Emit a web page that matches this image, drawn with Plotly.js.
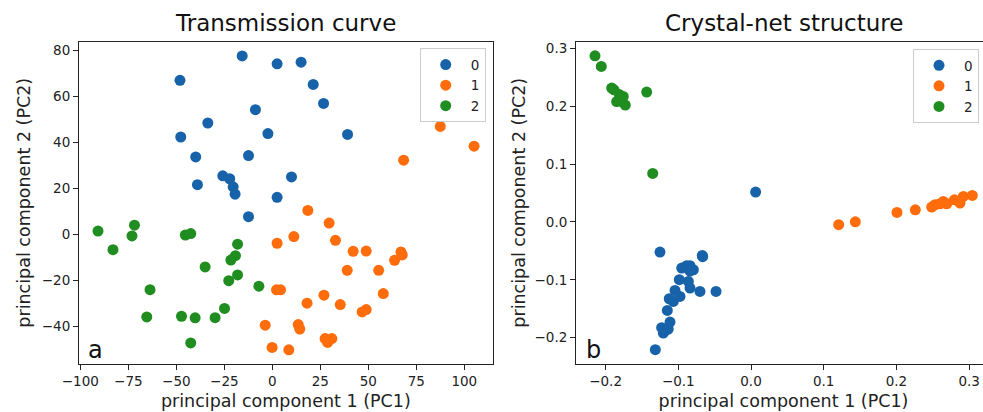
<!DOCTYPE html>
<html>
<head>
<meta charset="utf-8">
<script src="https://cdn.plot.ly/plotly-3.0.1.min.js"></script>
<style>
html, body { margin: 0; padding: 0; overflow: hidden; background: #fff; }
#chart { width: 1000px; height: 412px; }
</style>
</head>
<body>
<div id="chart"></div>
<script>
// ---- Data: Transmission curve (panel a) ----
const transClusterNames = ['0', '1', '2'];
const trans0X = [-15.7, 2.5, 15.0, -48.1, 21.3, 26.7, -8.8, -33.6, -47.7, -2.3, 39.2, -39.9, -12.4, -25.8, -22.2, -20.4, -19.4, 10.0, -39.0, 2.5, -12.4];
const trans0Y = [77.7, 74.3, 75.0, 67.1, 65.3, 57.0, 54.3, 48.5, 42.4, 43.9, 43.5, 33.7, 34.3, 25.5, 24.2, 20.7, 17.5, 25.0, 21.6, 16.1, 7.7];
const trans1X = [87.5, 105.1, 68.4, 18.5, 29.6, 2.5, 11.2, 32.9, 42.1, 48.9, 67.0, 67.7, 63.7, 39.0, 55.4, 2.2, 4.3, 26.9, 57.8, 18.1, 35.4, 46.8, 48.9, -3.7, 13.5, 14.3, 27.5, 31.0, 28.8, -0.1, 8.6];
const trans1Y = [47.0, 38.4, 32.3, 10.4, 4.9, -3.9, -1.0, -2.6, -7.4, -7.3, -7.7, -9.0, -11.3, -15.7, -15.7, -24.2, -24.2, -26.5, -25.8, -30.0, -30.6, -33.8, -32.8, -39.6, -39.3, -41.3, -45.4, -45.4, -47.1, -49.3, -50.3];
const trans2X = [-90.8, -71.8, -73.1, -83.0, -45.3, -42.5, -18.1, -19.2, -21.6, -35.0, -18.1, -22.7, -7.0, -63.7, -24.9, -65.4, -47.3, -40.2, -29.8, -42.5];
const trans2Y = [1.4, 4.0, -0.7, -6.7, -0.3, 0.3, -4.3, -9.3, -11.2, -14.2, -17.7, -20.2, -22.6, -24.1, -32.3, -36.0, -35.7, -36.4, -36.3, -47.3];

// ---- Data: Crystal-net structure (panel b) ----
const crys0X = [0.0064, -0.1252, -0.0670, -0.0665, -0.0953, -0.0885, -0.0839, -0.0793, -0.0839, -0.0986, -0.0862, -0.0839, -0.0702, -0.0481, -0.1045, -0.0977, -0.1068, -0.1124, -0.1151, -0.1114, -0.1229, -0.1183, -0.1206, -0.1138, -0.1316];
const crys0Y = [0.0516, -0.0520, -0.0578, -0.0600, -0.0797, -0.0757, -0.0757, -0.0826, -0.0850, -0.0998, -0.1027, -0.1142, -0.1200, -0.1200, -0.1183, -0.1286, -0.1373, -0.1327, -0.1529, -0.1729, -0.1827, -0.1880, -0.1920, -0.1850, -0.2207];
const crys1X = [0.1206, 0.1435, 0.2008, 0.2260, 0.2485, 0.2531, 0.2600, 0.2645, 0.2692, 0.2797, 0.2875, 0.2921, 0.3044];
const crys1Y = [-0.0048, 0.0003, 0.0164, 0.0210, 0.0257, 0.0297, 0.0314, 0.0354, 0.0314, 0.0383, 0.0326, 0.0440, 0.0458];
const crys2X = [-0.2146, -0.2059, -0.1916, -0.1884, -0.1848, -0.1779, -0.1757, -0.1729, -0.1810, -0.1435, -0.1352];
const crys2Y = [0.2870, 0.2686, 0.2312, 0.2283, 0.2080, 0.2080, 0.2168, 0.2019, 0.2200, 0.2243, 0.0838];

const panelTitles = ['Transmission curve', 'Crystal-net structure'];
const panelLetters = ['a', 'b'];
const xLabel = 'principal component 1 (PC1)';
const yLabel = 'principal component 2 (PC2)';

const colors = ['#1762a9', '#ff6c0b', '#1f8d1f'];
const W = 1000, H = 412;
const FONT = 'DejaVu Sans, sans-serif';

function mk(x, y, i, xa, ya, leg) {
  return {
    type: 'scatter', mode: 'markers', x: x, y: y,
    name: transClusterNames[i], xaxis: xa, yaxis: ya, legend: leg,
    marker: { color: colors[i], size: 11, line: { width: 0 } },
    hoverinfo: 'x+y'
  };
}

const traces = [
  mk(trans0X, trans0Y, 0, 'x', 'y', 'legend'),
  mk(trans1X, trans1Y, 1, 'x', 'y', 'legend'),
  mk(trans2X, trans2Y, 2, 'x', 'y', 'legend'),
  mk(crys0X, crys0Y, 0, 'x2', 'y2', 'legend2'),
  mk(crys1X, crys1Y, 1, 'x2', 'y2', 'legend2'),
  mk(crys2X, crys2Y, 2, 'x2', 'y2', 'legend2')
];

const yTop = 41.5, yBot = 364;
const yDom = [(H - yBot) / H, (H - yTop) / H];

function axBase(extra) {
  return Object.assign({
    showline: true, mirror: true, linecolor: '#222', linewidth: 1,
    ticks: 'outside', ticklen: 5, tickwidth: 1, tickcolor: '#222',
    showgrid: false, zeroline: false,
    tickfont: { family: FONT, size: 13.5, color: '#222' },
    automargin: false
  }, extra);
}

const legendBase = {
  bgcolor: 'rgba(255,255,255,0.85)', bordercolor: '#cccccc', borderwidth: 1,
  font: { family: FONT, size: 13.5, color: '#222' },
  xanchor: 'right', yanchor: 'top', tracegroupgap: 0, itemwidth: 40
};

const layout = {
  width: W, height: H,
  margin: { l: 0, r: 0, t: 0, b: 0 },
  paper_bgcolor: '#fff', plot_bgcolor: '#fff',
  font: { family: FONT, color: '#222' },
  showlegend: true,
  xaxis: axBase({
    domain: [79 / W, 492.7 / W], range: [-100.7, 114.8], dtick: 25, tick0: 0,
    anchor: 'y',
    title: { text: xLabel, font: { family: FONT, size: 17.5, color: '#222' }, standoff: 6 }
  }),
  yaxis: axBase({
    domain: yDom, range: [-56.5, 84.0], dtick: 20, tick0: 0, anchor: 'x',
    title: { text: yLabel, font: { family: FONT, size: 17.5, color: '#222' }, standoff: 6 }
  }),
  xaxis2: axBase({
    domain: [576 / W, 991 / W], range: [-0.2407, 0.3301], dtick: 0.1, tick0: 0,
    tickformat: '.1f', anchor: 'y2',
    title: { text: xLabel, font: { family: FONT, size: 17.5, color: '#222' }, standoff: 6 }
  }),
  yaxis2: axBase({
    domain: yDom, range: [-0.2454, 0.3117], dtick: 0.1, tick0: 0,
    tickformat: '.1f', anchor: 'x2',
    title: { text: yLabel, font: { family: FONT, size: 17.5, color: '#222' }, standoff: 4 }
  }),
  legend: Object.assign({ x: 485.7 / W, y: (H - 48.3) / H }, legendBase),
  legend2: Object.assign({ x: 979 / W, y: (H - 49) / H }, legendBase),
  annotations: [
    { text: panelTitles[0], xref: 'paper', yref: 'paper', x: (79 + 492.7) / 2 / W, y: (H - 38) / H,
      xanchor: 'center', yanchor: 'bottom', showarrow: false,
      font: { family: FONT, size: 23, color: '#111' } },
    { text: panelTitles[1], xref: 'paper', yref: 'paper', x: (576 + 991) / 2 / W, y: (H - 38) / H,
      xanchor: 'center', yanchor: 'bottom', showarrow: false,
      font: { family: FONT, size: 23, color: '#111' } },
    { text: panelLetters[0], xref: 'paper', yref: 'paper', x: 86 / W, y: (H - 366) / H,
      xanchor: 'left', yanchor: 'bottom', showarrow: false,
      font: { family: FONT, size: 24, color: '#111' } },
    { text: panelLetters[1], xref: 'paper', yref: 'paper', x: 584 / W, y: (H - 366) / H,
      xanchor: 'left', yanchor: 'bottom', showarrow: false,
      font: { family: FONT, size: 24, color: '#111' } }
  ]
};

Plotly.newPlot('chart', traces, layout, { displayModeBar: false, staticPlot: true });
</script>
</body>
</html>
